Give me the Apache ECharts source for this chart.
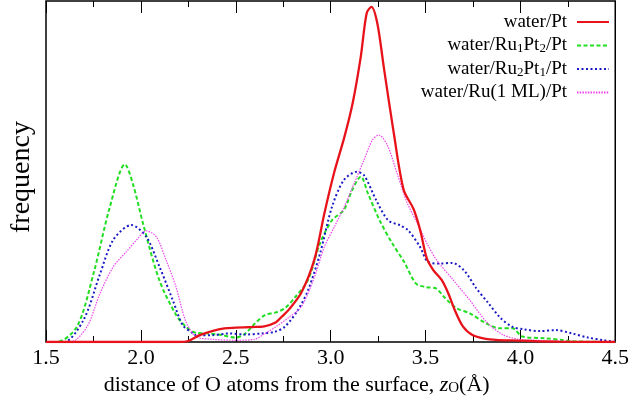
<!DOCTYPE html>
<html>
<head>
<meta charset="utf-8">
<script src="https://cdn.jsdelivr.net/npm/echarts@6/dist/echarts.min.js"></script>
<style>html,body{margin:0;padding:0;background:#fff}#c{width:632px;height:415px}</style>
</head>
<body>
<div id="c"></div>
<script>
// ---- data ----
const seriesNames = ['water/Pt', 'water/Ru1Pt2/Pt', 'water/Ru2Pt1/Pt', 'water/Ru(1 ML)/Pt'];
const legendLabels = ['water/Pt', 'water/Ru{sub|1}Pt{sub|2}/Pt', 'water/Ru{sub|2}Pt{sub|1}/Pt', 'water/Ru(1 ML)/Pt'];
const xTickValues = [1.5, 2.0, 2.5, 3.0, 3.5, 4.0, 4.5];

const ptX = [1.5, 1.8, 2.1, 2.2, 2.25, 2.31, 2.375, 2.44, 2.5, 2.585, 2.65, 2.71, 2.742, 2.78, 2.846, 2.915, 2.967, 3.02, 3.072, 3.116, 3.159, 3.19, 3.215, 3.246, 3.28, 3.333, 3.385, 3.437, 3.472, 3.507, 3.541, 3.585, 3.62, 3.654, 3.698, 3.75, 3.837, 3.99, 4.2, 4.5];
const ptY = [0, 0, 0, 0, 0.003, 0.02, 0.032, 0.04, 0.042, 0.044, 0.046, 0.057, 0.074, 0.095, 0.145, 0.243, 0.377, 0.5, 0.6, 0.700, 0.837, 0.964, 0.983, 0.935, 0.807, 0.612, 0.446, 0.39, 0.328, 0.245, 0.211, 0.182, 0.143, 0.094, 0.045, 0.02, 0.008, 0.004, 0.001, 0];

const ru1X = [1.5, 1.557, 1.663, 1.75, 1.837, 1.916, 1.96, 2.011, 2.098, 2.185, 2.237, 2.29, 2.359, 2.429, 2.498, 2.55, 2.602, 2.654, 2.707, 2.759, 2.811, 2.88, 2.944, 3.007, 3.07, 3.113, 3.159, 3.197, 3.26, 3.324, 3.387, 3.45, 3.503, 3.556, 3.598, 3.661, 3.733, 3.82, 3.889, 3.959, 4.01, 4.13, 4.22, 4.27, 4.5];
const ru1Y = [0, 0, 0.045, 0.20, 0.397, 0.521, 0.46, 0.348, 0.18, 0.08, 0.045, 0.027, 0.025, 0.02, 0.013, 0.025, 0.055, 0.079, 0.086, 0.099, 0.13, 0.181, 0.289, 0.357, 0.387, 0.445, 0.485, 0.435, 0.355, 0.29, 0.235, 0.171, 0.161, 0.157, 0.132, 0.10, 0.084, 0.055, 0.04, 0.04, 0.016, 0.011, 0.006, 0.002, 0];

const ru2X = [1.5, 1.594, 1.698, 1.785, 1.855, 1.95, 2.028, 2.098, 2.168, 2.22, 2.272, 2.29, 2.376, 2.463, 2.55, 2.637, 2.707, 2.759, 2.828, 2.881, 2.944, 3.007, 3.07, 3.138, 3.176, 3.24, 3.303, 3.366, 3.408, 3.471, 3.513, 3.577, 3.64, 3.703, 3.767, 3.83, 3.893, 3.956, 4.02, 4.104, 4.188, 4.272, 4.357, 4.44, 4.5];
const ru2Y = [0, 0, 0.065, 0.20, 0.30, 0.343, 0.309, 0.221, 0.123, 0.05, 0.026, 0.02, 0.02, 0.025, 0.022, 0.025, 0.03, 0.045, 0.094, 0.152, 0.259, 0.396, 0.475, 0.499, 0.489, 0.416, 0.357, 0.342, 0.328, 0.279, 0.235, 0.23, 0.232, 0.21, 0.158, 0.115, 0.072, 0.045, 0.037, 0.032, 0.035, 0.025, 0.013, 0.005, 0.001];

const mlX = [1.5, 1.629, 1.716, 1.785, 1.855, 1.924, 1.985, 2.028, 2.081, 2.133, 2.185, 2.237, 2.29, 2.376, 2.5, 2.6, 2.654, 2.712, 2.775, 2.846, 2.915, 2.967, 3.02, 3.072, 3.124, 3.176, 3.22, 3.254, 3.298, 3.35, 3.402, 3.455, 3.507, 3.559, 3.646, 3.733, 3.82, 3.906, 3.99, 4.08, 4.23, 4.5];
const mlY = [0, 0, 0.045, 0.143, 0.221, 0.265, 0.304, 0.326, 0.309, 0.24, 0.162, 0.06, 0.016, 0.008, 0.005, 0.008, 0.025, 0.045, 0.07, 0.104, 0.191, 0.279, 0.338, 0.397, 0.465, 0.534, 0.592, 0.607, 0.578, 0.495, 0.41, 0.35, 0.29, 0.24, 0.182, 0.123, 0.06, 0.022, 0.008, 0.005, 0.002, 0];

const xAxisTitle = 'distance of O atoms from the surface, {i|z}{sub|O}(Å)';
const yAxisTitle = 'frequency';

// ---- chart ----
const FONT = '"Liberation Serif", "DejaVu Serif", serif';
const zip = (xs, ys) => xs.map((x, i) => [x, ys[i]]);
const colors = ['#e8121a', '#22dd22', '#1a1ac4', '#ee44ee'];
const styles = [
  { width: 2.3, type: 'solid' },
  { width: 2, type: [4, 2.5] },
  { width: 2, type: [2, 2.5] },
  { width: 1.2, type: [1.5, 1.2] }
];
const dataSets = [zip(ptX, ptY), zip(ru1X, ru1Y), zip(ru2X, ru2Y), zip(mlX, mlY)];

const tickCommon = {
  min: 1.5, max: 4.5, interval: 0.5, type: 'value',
  axisLine: { show: false },
  axisTick: { show: true, inside: true, length: 12, lineStyle: { color: '#000', width: 1 } },
  minorTick: { show: true, splitNumber: 2, length: 6, lineStyle: { color: '#000', width: 1 } },
  splitLine: { show: false }
};

const chart = echarts.init(document.getElementById('c'), null, { renderer: 'canvas' });
chart.setOption({
  animation: false,
  backgroundColor: '#fff',
  grid: { left: 42, right: 15, top: 1, bottom: 73, show: true, borderColor: '#000', borderWidth: 1.5, backgroundColor: 'transparent' },
  legend: {
    orient: 'vertical', align: 'right', right: 22, top: 12, padding: 0,
    itemWidth: 32, itemHeight: 12, itemGap: 3.5,
    data: seriesNames,
    itemStyle: { opacity: 0 },
    formatter: name => legendLabels[seriesNames.indexOf(name)],
    textStyle: {
      fontFamily: FONT, fontSize: 19, color: '#000', lineHeight: 20, padding: [0, 5, 0, 0],
      rich: { sub: { fontFamily: FONT, fontSize: 13, lineHeight: 10, verticalAlign: 'bottom', color: '#000' } }
    }
  },
  xAxis: [
    Object.assign({}, tickCommon, {
      position: 'bottom',
      axisLabel: { show: true, margin: 5, fontFamily: FONT, fontSize: 22, color: '#000', formatter: v => xTickValues.includes(+v.toFixed(2)) ? v.toFixed(1) : '' },
      name: xAxisTitle, nameLocation: 'middle', nameGap: 32,
      nameTextStyle: {
        fontFamily: FONT, fontSize: 22, color: '#000', padding: [0, 68, 0, 0],
        rich: {
          i: { fontFamily: FONT, fontSize: 22, fontStyle: 'italic', color: '#000' },
          sub: { fontFamily: FONT, fontSize: 15, lineHeight: 12, verticalAlign: 'bottom', color: '#000' }
        }
      }
    }),
    Object.assign({}, tickCommon, { position: 'top', axisLabel: { show: false } })
  ],
  yAxis: {
    type: 'value', min: 0, max: 1,
    axisLine: { show: false }, axisTick: { show: false }, axisLabel: { show: false }, splitLine: { show: false },
    name: yAxisTitle, nameLocation: 'middle', nameRotate: 90, nameGap: 10,
    nameTextStyle: { fontFamily: FONT, fontSize: 28, color: '#000', padding: [0, 11, 0, 0] }
  },
  series: seriesNames.map((n, i) => ({
    name: n, type: 'line', xAxisIndex: 0, data: dataSets[i],
    smooth: 0.3, symbol: 'none', showSymbol: false,
    color: colors[i],
    itemStyle: { opacity: 0 },
    lineStyle: { color: colors[i], width: styles[i].width, type: styles[i].type },
    z: i === 0 ? 5 : 3
  }))
});
</script>
</body>
</html>
